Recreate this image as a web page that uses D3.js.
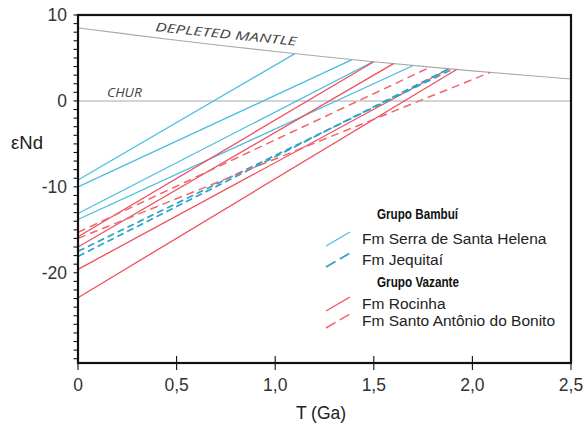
<!DOCTYPE html>
<html>
<head>
<meta charset="utf-8">
<script src="https://cdn.jsdelivr.net/npm/d3@7/dist/d3.min.js"></script>
<style>
  html, body { margin: 0; padding: 0; background: #fff; }
  svg { display: block; font-family: "Liberation Sans", Arial, sans-serif; }
</style>
</head>
<body>
<svg id="chart" width="588" height="428"></svg>
<script>
// Depleted mantle reference curve (T in Ga, eNd)
const dmT = [0, 0.25, 0.5, 0.75, 1.0, 1.25, 1.5, 1.75, 2.0, 2.25, 2.5];
const dmE = [8.5, 7.77, 7.06, 6.39, 5.75, 5.14, 4.56, 4.02, 3.5, 3.02, 2.56];

// Model-age lines: eNd today (T=0) and the point where each meets the DM curve
const serraStart = [-9.2, -10.0, -13.1, -13.8];
const serraTdm   = [1.10, 1.39, 1.495, 1.70];
const serraEdm   = [5.5, 4.8, 4.56, 4.12];

const jequitaiStart = [-17.5, -18.1];
const jequitaiTdm   = [1.90, 1.88];
const jequitaiEdm   = [3.7, 3.74];

const rocinhaStart = [-15.8, -17.0, -19.6, -22.9];
const rocinhaTdm   = [1.50, 1.60, 1.88, 1.92];
const rocinhaEdm   = [4.56, 4.34, 3.74, 3.66];

const bonitoStart = [-15.3, -16.0];
const bonitoTdm   = [1.79, 2.09];
const bonitoEdm   = [3.97, 3.32];

const xTicks = [0, 0.5, 1.0, 1.5, 2.0, 2.5];
const xTickLabels = ["0", "0,5", "1,0", "1,5", "2,0", "2,5"];
const yTicks = [10, 0, -10, -20];

const BLUE = "#4cbde0", BLUE_D = "#2ea3c6", RED = "#ef4f5c", RED_D = "#f0646c";

const svg = d3.select("#chart");
const x = d3.scaleLinear().domain([0, 2.5]).range([78, 571]);
const y = d3.scaleLinear().domain([-30.5, 10]).range([363, 15]);

const plot = svg.append("g");

// CHUR and depleted mantle
plot.append("line")
  .attr("x1", x(0)).attr("x2", x(2.5)).attr("y1", y(0)).attr("y2", y(0))
  .attr("stroke", "#a9a9a9").attr("stroke-width", 1.1);
plot.append("path")
  .attr("fill", "none").attr("stroke", "#a9a9a9").attr("stroke-width", 1.1)
  .attr("d", d3.line().x((d, i) => x(dmT[i])).y(d => y(d)).curve(d3.curveMonotoneX)(dmE));

function series(starts, tdm, edm, color, dash, width) {
  starts.forEach((s, i) => {
    plot.append("line")
      .attr("x1", x(0)).attr("y1", y(s))
      .attr("x2", x(tdm[i])).attr("y2", y(edm[i]))
      .attr("stroke", color).attr("stroke-width", width)
      .attr("stroke-dasharray", dash);
  });
}
series(serraStart, serraTdm, serraEdm, BLUE, null, 1.3);
series(rocinhaStart, rocinhaTdm, rocinhaEdm, RED, null, 1.3);
series(jequitaiStart, jequitaiTdm, jequitaiEdm, BLUE_D, "7 4", 1.7);
series(bonitoStart, bonitoTdm, bonitoEdm, RED_D, "8 5", 1.5);

// curve labels
const a0 = 0.39, a1 = 1.12;
const ang = Math.atan2(y(dmE[6]) - y(dmE[4]), x(dmT[6]) - x(dmT[4])) * 180 / Math.PI;
plot.append("text")
  .attr("transform", `translate(${x(a0)},${y(7.37) - 6.5}) rotate(${ang})`)
  .attr("font-family", "'Open Sans', sans-serif").attr("font-style", "italic")
  .attr("font-size", 12).attr("fill", "#444")
  .attr("textLength", x(a1) - x(a0) - 2).attr("lengthAdjust", "spacingAndGlyphs")
  .text("DEPLETED MANTLE");
plot.append("text")
  .attr("x", 107).attr("y", y(0) - 4)
  .attr("font-family", "'Open Sans', sans-serif").attr("font-style", "italic")
  .attr("font-size", 12.5).attr("fill", "#444")
  .attr("textLength", 35).attr("lengthAdjust", "spacingAndGlyphs")
  .text("CHUR");

// frame
svg.append("rect")
  .attr("x", x(0)).attr("y", y(10)).attr("width", x(2.5) - x(0)).attr("height", y(-30.5) - y(10))
  .attr("fill", "none").attr("stroke", "#111").attr("stroke-width", 2.2);

// y axis: minor ticks every unit, labels at the majors
const gy = svg.append("g").attr("transform", `translate(${x(0)},0)`);
gy.selectAll("line").data(d3.range(-30, 11)).join("line")
  .attr("x1", -4.5).attr("x2", 0).attr("y1", d => y(d)).attr("y2", d => y(d))
  .attr("stroke", "#111").attr("stroke-width", 1.1);
gy.selectAll("text").data(yTicks).join("text")
  .attr("x", -11).attr("y", d => y(d)).attr("dy", "0.36em")
  .attr("text-anchor", "end").attr("font-size", 17.5).attr("fill", "#333")
  .text(d => d);

// x axis: ticks cross the axis line
const gx = svg.append("g").attr("transform", `translate(0,${y(-30.5)})`);
gx.selectAll("line").data(xTicks).join("line")
  .attr("x1", d => x(d)).attr("x2", d => x(d))
  .attr("y1", d => d === 0 ? 0 : -7).attr("y2", 7)
  .attr("stroke", "#111").attr("stroke-width", 1.1);
gx.selectAll("text").data(xTicks).join("text")
  .attr("x", d => x(d)).attr("y", 22).attr("dy", "0.36em")
  .attr("text-anchor", "middle").attr("font-size", 17.5).attr("fill", "#333")
  .text((d, i) => xTickLabels[i]);

svg.append("text").attr("x", 321).attr("y", 419)
  .attr("text-anchor", "middle").attr("font-size", 17.5).attr("fill", "#222")
  .text("T (Ga)");
svg.append("text").attr("x", 27).attr("y", 149)
  .attr("text-anchor", "middle").attr("font-size", 18.5).attr("fill", "#222")
  .text("εNd");

// legend
const legend = [
  { head: "Grupo Bambuí", y: 214, w: 81 },
  { label: "Fm Serra de Santa Helena", y: 238, color: BLUE, dash: null, sw: 1.3 },
  { label: "Fm Jequitaí", y: 259, color: BLUE_D, dash: "11 5", sw: 1.7 },
  { head: "Grupo Vazante", y: 282, w: 82 },
  { label: "Fm Rocinha", y: 303, color: RED, dash: null, sw: 1.3 },
  { label: "Fm Santo Antônio do Bonito", y: 320, color: RED_D, dash: "11 5", sw: 1.5 },
];
const gl = svg.append("g");
legend.forEach(d => {
  if (d.head) {
    gl.append("text").attr("x", 377).attr("y", d.y).attr("dy", "0.36em")
      .attr("font-weight", "bold").attr("font-size", 14.5).attr("fill", "#111")
      .attr("textLength", d.w).attr("lengthAdjust", "spacingAndGlyphs")
      .text(d.head);
  } else {
    gl.append("line")
      .attr("x1", 326).attr("y1", d.y + 8).attr("x2", 350).attr("y2", d.y - 6)
      .attr("stroke", d.color).attr("stroke-width", d.sw).attr("stroke-dasharray", d.dash);
    gl.append("text").attr("x", 362).attr("y", d.y).attr("dy", "0.36em")
      .attr("font-size", 15.5).attr("fill", "#222")
      .text(d.label);
  }
});
</script>
</body>
</html>
